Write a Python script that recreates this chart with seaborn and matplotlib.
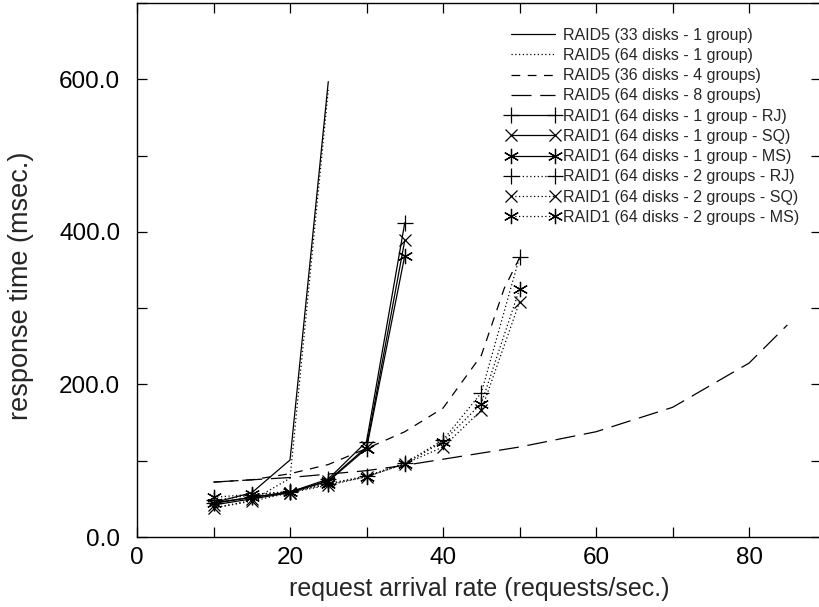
import matplotlib
matplotlib.use("Agg")
import matplotlib.pyplot as plt
import seaborn as sns
import pandas as pd
from matplotlib.ticker import MultipleLocator, FormatStrFormatter

# ---- data ----
x_r5_33 = [10, 15, 20, 25]
y_r5_33 = [45, 58, 101, 597]

x_r5_64_1 = [10, 15, 20, 25]
y_r5_64_1 = [38, 48, 77, 586]

x_r5_36_4 = [10, 15, 20, 25, 30, 35, 40, 45, 48, 50]
y_r5_36_4 = [72, 75, 83, 95, 116, 138, 169, 238, 326, 366]

x_r5_64_8 = [10, 20, 30, 35, 40, 50, 60, 70, 80, 85]
y_r5_64_8 = [72, 78, 87, 94, 102, 118, 138, 170, 228, 278]

x_r1_1 = [10, 15, 20, 25, 30, 35]
y_r1_1_rj = [44, 52, 59, 76, 125, 412]
y_r1_1_sq = [42, 50, 58, 74, 118, 389]
y_r1_1_ms = [45, 52, 59, 73, 116, 369]

x_r1_2 = [10, 15, 20, 25, 30, 35, 40, 45, 50]
y_r1_2_rj = [48, 55, 60, 70, 80, 97, 127, 189, 367]
y_r1_2_sq = [38, 47, 58, 68, 79, 96, 118, 166, 308]
y_r1_2_ms = [52, 56, 59, 69, 79, 96, 125, 175, 325]

labels = [
    "RAID5 (33 disks - 1 group)",
    "RAID5 (64 disks - 1 group)",
    "RAID5 (36 disks - 4 groups)",
    "RAID5 (64 disks - 8 groups)",
    "RAID1 (64 disks - 1 group - RJ)",
    "RAID1 (64 disks - 1 group - SQ)",
    "RAID1 (64 disks - 1 group - MS)",
    "RAID1 (64 disks - 2 groups - RJ)",
    "RAID1 (64 disks - 2 groups - SQ)",
    "RAID1 (64 disks - 2 groups - MS)",
]

series = [
    (x_r5_33, y_r5_33, dict(linestyle="-", marker=None)),
    (x_r5_64_1, y_r5_64_1, dict(linestyle=(0, (1, 2)), marker=None)),
    (x_r5_36_4, y_r5_36_4, dict(linestyle=(0, (7, 6)), marker=None)),
    (x_r5_64_8, y_r5_64_8, dict(linestyle=(0, (16, 7)), marker=None)),
    (x_r1_1, y_r1_1_rj, dict(linestyle="-", marker="+", markersize=12)),
    (x_r1_1, y_r1_1_sq, dict(linestyle="-", marker="x", markersize=8.5)),
    (x_r1_1, y_r1_1_ms, dict(linestyle="-", marker=(6, 2, 0), markersize=11)),
    (x_r1_2, y_r1_2_rj, dict(linestyle=(0, (1, 2)), marker="+", markersize=12)),
    (x_r1_2, y_r1_2_sq, dict(linestyle=(0, (1, 2)), marker="x", markersize=8.5)),
    (x_r1_2, y_r1_2_ms, dict(linestyle=(0, (1, 2)), marker=(6, 2, 0), markersize=11)),
]

sns.set_theme(style="ticks")
plt.rcParams["font.family"] = ["Liberation Sans", "DejaVu Sans"]

fig = plt.figure(figsize=(8.2, 6.07), dpi=100)
ax = fig.add_axes([0.1671, 0.1153, 0.8341, 0.8797])

for (xs, ys, st), lab in zip(series, labels):
    df = pd.DataFrame({"x": xs, "y": ys})
    sns.lineplot(data=df, x="x", y="y", ax=ax, color="black", linewidth=0.9,
                 label=lab, markeredgewidth=0.9, markerfacecolor="black",
                 markeredgecolor="black", sort=False, **st)

ax.set_xlim(0, 89.4)
ax.set_ylim(0, 700)
ax.xaxis.set_major_locator(MultipleLocator(20))
ax.xaxis.set_minor_locator(MultipleLocator(10))
ax.yaxis.set_major_locator(MultipleLocator(200))
ax.yaxis.set_minor_locator(MultipleLocator(100))
ax.yaxis.set_major_formatter(FormatStrFormatter("%.1f"))
ax.tick_params(which="both", direction="in", top=True, right=True,
               length=7, width=0.9, labelsize=17.5, colors="black")
ax.tick_params(axis="y", which="both", pad=12)
ax.tick_params(axis="x", which="both", pad=7)
for s in ax.spines.values():
    s.set_linewidth(1.0)
    s.set_color("black")

ax.set_xlabel("request arrival rate (requests/sec.)", fontsize=18)
ax.set_ylabel("response time (msec.)", fontsize=19.5)
ax.xaxis.set_label_coords(0.5, -0.074)
ax.yaxis.set_label_coords(-0.150, 0.47)

leg = ax.legend(loc="upper right", bbox_to_anchor=(0.985, 0.975), frameon=False,
                fontsize=11.5, handlelength=3.3, numpoints=2, labelspacing=0.33,
                handletextpad=0.25, borderaxespad=0.3)

fig.savefig("out.png", dpi=100)
